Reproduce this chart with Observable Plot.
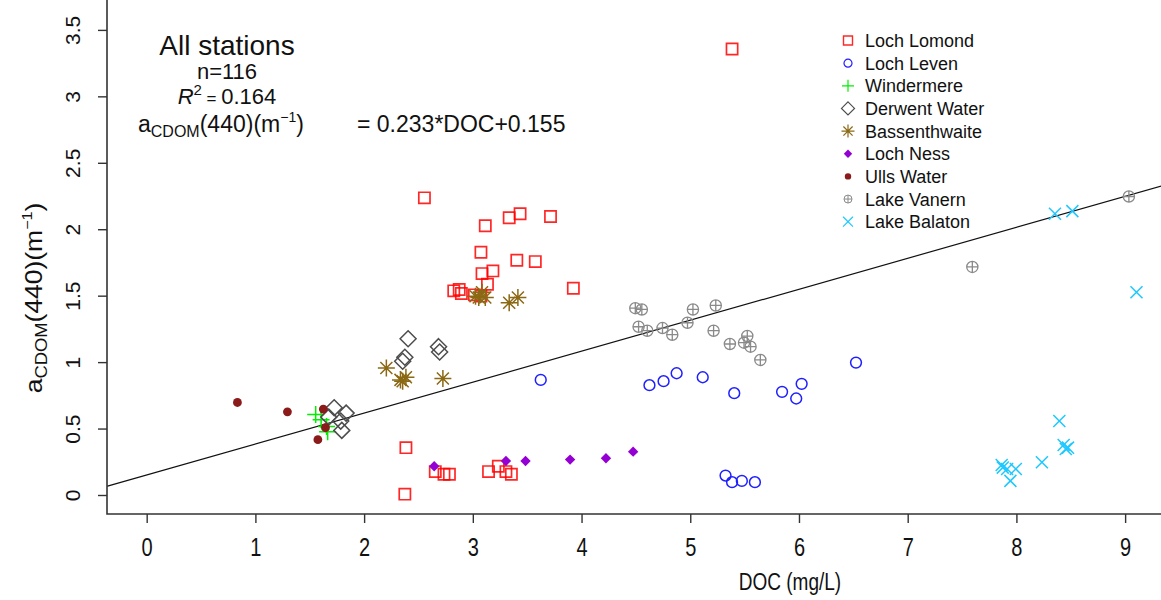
<!DOCTYPE html>
<html>
<head>
<meta charset="utf-8">
<script src="https://cdn.jsdelivr.net/npm/d3@7"></script>
<script src="https://cdn.jsdelivr.net/npm/@observablehq/plot@0.6"></script>
<style>
  body { margin: 0; background: #fff; }
  #chart svg { font-family: "Liberation Sans", Arial, sans-serif; overflow: visible; }
</style>
</head>
<body>
<div id="chart"></div>
<script>
// Station names, in legend order
const stations = ["Loch Lomond", "Loch Leven", "Windermere", "Derwent Water", "Bassenthwaite",
                  "Loch Ness", "Ulls Water", "Lake Vanern", "Lake Balaton"];

// DOC (mg/L) and aCDOM(440) (m^-1) per station
const lomondDOC = [5.38, 2.55, 3.11, 3.33, 3.43, 3.71, 3.07, 3.40, 3.57, 3.18, 3.08, 3.13, 3.92, 2.82, 2.87, 2.89, 3.07, 3.01,
                   2.38, 2.37, 2.65, 2.73, 2.78, 3.14, 3.23, 3.30, 3.35];
const lomondA   = [3.36, 2.24, 2.03, 2.09, 2.12, 2.10, 1.83, 1.77, 1.76, 1.69, 1.67, 1.59, 1.56, 1.54, 1.55, 1.52, 1.50, 1.51,
                   0.36, 0.01, 0.18, 0.16, 0.16, 0.18, 0.22, 0.18, 0.16];
const levenDOC = [3.62, 4.62, 4.75, 4.87, 5.11, 5.40, 5.84, 5.97, 6.02, 6.52, 5.32, 5.38, 5.47, 5.59];
const levenA   = [0.87, 0.83, 0.86, 0.92, 0.89, 0.77, 0.78, 0.73, 0.84, 1.00, 0.15, 0.10, 0.11, 0.10];
const windermereDOC = [1.55, 1.60, 1.65, 1.66];
const windermereA   = [0.61, 0.57, 0.52, 0.48];
const derwentDOC = [2.40, 2.37, 2.35, 2.68, 2.69, 1.72, 1.83, 1.78, 1.79, 1.67];
const derwentA   = [1.18, 1.04, 1.01, 1.12, 1.08, 0.66, 0.62, 0.56, 0.49, 0.59];
const bassDOC = [2.20, 2.33, 2.38, 2.35, 2.72, 3.08, 3.02, 3.11, 3.33, 3.41, 3.05];
const bassA   = [0.96, 0.87, 0.89, 0.86, 0.88, 1.53, 1.50, 1.49, 1.45, 1.49, 1.49];
const nessDOC = [2.64, 3.30, 3.48, 3.89, 4.22, 4.47];
const nessA   = [0.22, 0.26, 0.26, 0.27, 0.28, 0.33];
const ullsDOC = [0.83, 1.29, 1.62, 1.64, 1.57];
const ullsA   = [0.70, 0.63, 0.65, 0.51, 0.42];
const vanernDOC = [4.49, 4.55, 5.02, 5.23, 4.52, 4.60, 4.74, 4.83, 4.97, 5.21, 5.36, 5.52, 5.49, 5.55, 5.64, 7.59, 9.03];
const vanernA   = [1.41, 1.40, 1.40, 1.43, 1.27, 1.24, 1.26, 1.21, 1.30, 1.24, 1.14, 1.20, 1.15, 1.12, 1.02, 1.72, 2.25];
const balatonDOC = [8.35, 8.51, 9.10, 8.39, 8.43, 8.47, 8.45, 8.23, 7.87, 7.91, 7.99, 7.94, 7.86];
const balatonA   = [2.12, 2.14, 1.53, 0.56, 0.38, 0.36, 0.35, 0.25, 0.21, 0.20, 0.20, 0.11, 0.23];

const docSeries = [lomondDOC, levenDOC, windermereDOC, derwentDOC, bassDOC, nessDOC, ullsDOC, vanernDOC, balatonDOC];
const aSeries   = [lomondA, levenA, windermereA, derwentA, bassA, nessA, ullsA, vanernA, balatonA];

// Linear fit over all stations
const nObs = 116;
const r2 = 0.164;
const slope = 0.233;
const intercept = 0.155;

// Axis ticks
const xTicks = [0, 1, 2, 3, 4, 5, 6, 7, 8, 9];
const yTicks = [0, 0.5, 1, 1.5, 2, 2.5, 3, 3.5];

// Plot symbols drawn at a radius r recovered from the area Plot passes in
const sym = (f) => ({draw(c, size) { f(c, Math.sqrt(size / Math.PI)); }});
const drawPlus = (c, r) => { c.moveTo(-r, 0); c.lineTo(r, 0); c.moveTo(0, -r); c.lineTo(0, r); };
const drawCross = (c, r) => { const d = r / Math.SQRT2; c.moveTo(-d, -d); c.lineTo(d, d); c.moveTo(-d, d); c.lineTo(d, -d); };
const drawRing = (c, r) => { c.moveTo(r, 0); c.arc(0, 0, r, 0, 2 * Math.PI); };
const square = sym((c, r) => c.rect(-r, -r, 2 * r, 2 * r));
const ring = sym(drawRing);
const plus = sym(drawPlus);
const cross = sym(drawCross);
const diamond = sym((c, r) => { c.moveTo(0, -r); c.lineTo(r, 0); c.lineTo(0, r); c.lineTo(-r, 0); c.closePath(); });
const asterisk = sym((c, r) => { drawPlus(c, r); drawCross(c, r); });
const circlePlus = sym((c, r) => { drawRing(c, r); drawPlus(c, r); });

const styles = [
  {symbol: square,     r: 5.6, legendR: 4.5, fill: "none",    stroke: "#ff0000", strokeWidth: 1.7, opacity: 0.85},
  {symbol: ring,       r: 5.4, legendR: 4,   fill: "none",    stroke: "#1f1fff", strokeWidth: 1.5, opacity: 1},
  {symbol: plus,       r: 8.5, legendR: 6,   fill: "none",    stroke: "#00ee00", strokeWidth: 1.5, opacity: 1},
  {symbol: diamond,    r: 8,   legendR: 6.5, fill: "none",    stroke: "#4d4d4d", strokeWidth: 1.5, opacity: 1},
  {symbol: asterisk,   r: 8.5, legendR: 6.5, fill: "none",    stroke: "#8b6914", strokeWidth: 1.5, opacity: 1},
  {symbol: diamond,    r: 5.2, legendR: 4.2, fill: "#9400d3", stroke: "none",    strokeWidth: 0,   opacity: 1},
  {symbol: ring,       r: 4.4, legendR: 3.2, fill: "#8b1a1a", stroke: "none",    strokeWidth: 0,   opacity: 1},
  {symbol: circlePlus, r: 5.6, legendR: 4,   fill: "none",    stroke: "#8a8a8a", strokeWidth: 1.3, opacity: 1},
  {symbol: cross,      r: 8.5, legendR: 7,   fill: "none",    stroke: "#1ec8ff", strokeWidth: 1.5, opacity: 1}
];

// Frame geometry
const width = 1161, height = 600;
const margin = {top: 0, right: 0, bottom: 86, left: 107};
const xDomain = [-0.365, 9.33];
const yDomain = [-0.143, 3.725];
const font = '"Liberation Sans", Arial, sans-serif';
// Axis lettering is drawn taller than it is wide
const axisStretch = 1.28;

const fitLine = xDomain.map((x) => ({x, y: slope * x + intercept}));

function symbolPath(symbol, r) {
  const p = d3.path();
  symbol.draw(p, r * r * Math.PI);
  return p.toString();
}

// Left and bottom axis lines
function axisLines(index, scales, values, dim) {
  const g = d3.create("svg:g").attr("stroke", "#333").attr("stroke-width", 1.6).attr("fill", "none");
  g.append("path").attr("d", `M${dim.marginLeft},0V${dim.height - dim.marginBottom}H${dim.width}`);
  return g.node();
}

// Station legend in the upper right
function legend() {
  const g = d3.create("svg:g").attr("font-family", font).attr("font-size", 18).attr("text-anchor", "start");
  const x0 = 848, y0 = 40.5, step = 22.65;
  stations.forEach((name, i) => {
    const s = styles[i], y = y0 + i * step;
    g.append("path")
      .attr("transform", `translate(${x0},${y})`)
      .attr("d", symbolPath(s.symbol, s.legendR))
      .attr("fill", s.fill).attr("stroke", s.stroke)
      .attr("stroke-width", Math.max(s.strokeWidth - 0.3, 0))
      .attr("stroke-opacity", s.opacity);
    g.append("text").attr("x", 865).attr("y", y).attr("dy", "0.36em").attr("fill", "#111").text(name);
  });
  return g.node();
}

// Fit summary in the upper left
function fitNote() {
  const g = d3.create("svg:g").attr("font-family", font).attr("fill", "#111");
  g.append("text").attr("x", 227).attr("y", 55).attr("text-anchor", "middle").attr("font-size", 28).text("All stations");
  g.append("text").attr("x", 227).attr("y", 79).attr("text-anchor", "middle").attr("font-size", 22).text(`n=${nObs}`);
  const t2 = g.append("text").attr("x", 227).attr("y", 104).attr("text-anchor", "middle").attr("font-size", 22);
  t2.append("tspan").attr("font-style", "italic").text("R");
  t2.append("tspan").attr("font-size", 15).attr("dy", -9).text("2");
  t2.append("tspan").attr("font-size", 17).attr("dy", 9).text(" = ");
  t2.append("tspan").text(String(r2));
  const t3 = g.append("text").attr("x", 138).attr("y", 132).attr("font-size", 23).attr("text-anchor", "start");
  t3.append("tspan").text("a");
  t3.append("tspan").attr("font-size", 16).attr("dy", 5).text("CDOM");
  t3.append("tspan").attr("dy", -5).text("(440)(m");
  t3.append("tspan").attr("font-size", 14).attr("dy", -10).text("\u22121");
  t3.append("tspan").attr("dy", 10).text(")");
  g.append("text").attr("x", 357).attr("y", 132).attr("font-size", 23).attr("text-anchor", "start")
    .text(`= ${slope}*DOC+${intercept}`);
  return g.node();
}

// Axis titles
function axisTitles() {
  const g = d3.create("svg:g").attr("font-family", font).attr("fill", "#111");
  g.append("text").attr("transform", `translate(790,590) scale(1,${axisStretch})`)
    .attr("text-anchor", "middle").attr("font-size", 19).text("DOC (mg/L)");
  const t = g.append("text").attr("transform", "translate(42,298) rotate(-90) scale(1.15,1)")
    .attr("text-anchor", "middle").attr("font-size", 23);
  t.append("tspan").text("a");
  t.append("tspan").attr("font-size", 16).attr("dy", 5).text("CDOM");
  t.append("tspan").attr("dy", -5).text("(440)(m");
  t.append("tspan").attr("font-size", 14).attr("dy", -10).text("\u22121");
  t.append("tspan").attr("dy", 10).text(")");
  return g.node();
}

const stationMarks = stations.map((name, i) => {
  const s = styles[i];
  const rows = docSeries[i].map((doc, j) => ({doc, a: aSeries[i][j]}));
  return Plot.dot(rows, {
    x: "doc", y: "a", r: s.r, symbol: s.symbol,
    fill: s.fill, stroke: s.stroke, strokeWidth: s.strokeWidth, strokeOpacity: s.opacity
  });
});

const chart = Plot.plot({
  width, height,
  marginTop: margin.top, marginRight: margin.right, marginBottom: margin.bottom, marginLeft: margin.left,
  style: {fontFamily: font, background: "#fff", color: "#111"},
  x: {domain: xDomain},
  y: {domain: yDomain},
  marks: [
    Plot.line(fitLine, {x: "x", y: "y", stroke: "#111", strokeWidth: 1.2}),
    ...stationMarks,
    axisLines,
    Plot.axisX({ticks: xTicks, tickSize: 9, tickPadding: 14, fontSize: 20, label: null, stroke: "#333", strokeWidth: 1.4}),
    Plot.axisY({ticks: yTicks, tickSize: 9, tickFormat: () => "", label: null, stroke: "#333", strokeWidth: 1.4}),
    Plot.text(yTicks, {y: (d) => d, text: (d) => String(d), frameAnchor: "left", dx: -34,
      rotate: -90, textAnchor: "middle", lineAnchor: "middle", fontSize: 21, fill: "#111",
      ariaLabel: "y-axis tick label"}),
    legend,
    fitNote,
    axisTitles
  ]
});

// Stretch the tick lettering along the page's vertical
d3.select(chart).selectAll('g[aria-label="x-axis tick label"] text')
  .attr("transform", function () { return (this.getAttribute("transform") || "") + ` scale(1,${axisStretch})`; });
d3.select(chart).selectAll('g[aria-label="y-axis tick label"] text')
  .attr("transform", function () { return (this.getAttribute("transform") || "") + " scale(1.12,1)"; });

document.getElementById("chart").append(chart);
</script>
</body>
</html>
